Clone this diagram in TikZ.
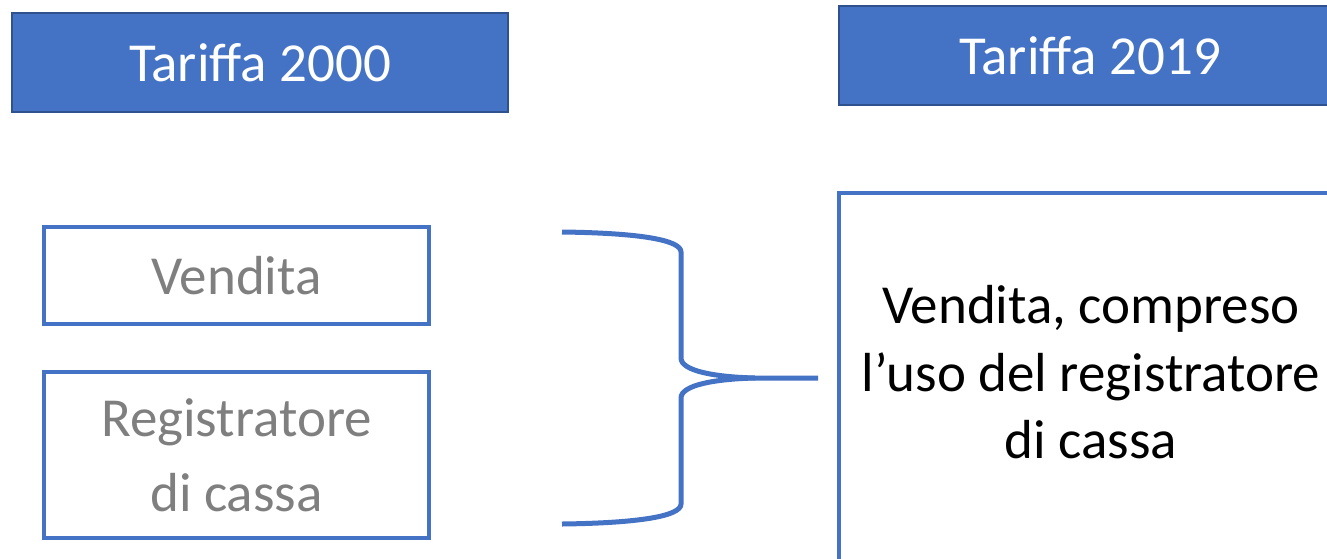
\documentclass[tikz,border=0pt]{standalone}
\usepackage{fontspec}
\setmainfont{Carlito}
\definecolor{accent}{HTML}{4472C4}
\definecolor{accentdark}{HTML}{2F528F}
\definecolor{greytext}{HTML}{7F7F7F}
\tikzset{
  hdrbox/.style={draw=accentdark, line width=1.5pt, fill=accent, text=white,
    font=\fontsize{55}{67.5}\selectfont, inner sep=0pt},
  oldbox/.style={draw=accent, line width=4pt, text=greytext, align=center,
    font=\fontsize{55}{67.5}\selectfont, inner sep=0pt},
  newbox/.style={draw=accent, line width=4pt, text=black, align=center,
    font=\fontsize{55}{67.5}\selectfont, inner sep=0pt},
  bracelink/.style={draw=accent, line width=5pt}
}
\begin{document}
\begin{tikzpicture}[x=1pt, y=-1pt]
\useasboundingbox[fill=white] (0,0) rectangle (1327,558);
\node[hdrbox, minimum width=496pt, minimum height=99pt] (t2000) at (260,62.5) {Tariffa 2000};
\node[hdrbox, minimum width=502pt, minimum height=99pt] (t2019) at (1090,55.5) {Tariffa 2019};
\node[oldbox, minimum width=385pt, minimum height=97pt] (vendita) at (236.5,275.5) {Vendita};
\node[oldbox, minimum width=385pt, minimum height=166pt] (registratore) at (236.5,455) {Registratore\\[7.5pt]di cassa};
\node[newbox, minimum width=504pt, minimum height=372pt, text depth=14pt] (nuova) at (1091,379) {Vendita, compreso\\l’uso del registratore\\di cassa};
\coordinate (btop) at (562,232);
\coordinate (bbot) at (562,524);
\coordinate (btip) at (818,378);
\path[bracelink] (btop) .. controls (640,233) and (681,240) .. (681,252)
  -- (681,358) .. controls (681,371) and (715,377) .. (755,378) -- (btip);
\path[bracelink] (bbot) .. controls (640,523) and (681,516) .. (681,504)
  -- (681,398) .. controls (681,385) and (715,379) .. (755,378);
\end{tikzpicture}
\end{document}
